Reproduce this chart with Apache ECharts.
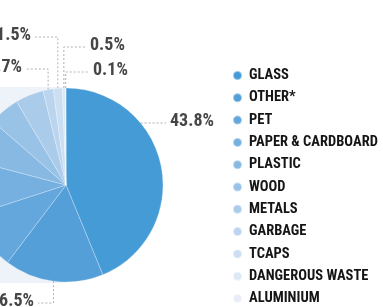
<!DOCTYPE html>
<html>
<head>
<meta charset="utf-8">
<script src="https://cdn.jsdelivr.net/npm/echarts@6/dist/echarts.min.js"></script>
<style>
  html, body { margin: 0; padding: 0; background: #fff; }
  #chart { width: 383px; height: 307px; }
</style>
</head>
<body>
<div id="chart"></div>
<script>
// waste composition, share in %
var categories = ["GLASS", "OTHER*", "PET", "PAPER & CARDBOARD", "PLASTIC", "WOOD",
  "METALS", "GARBAGE", "TCAPS", "DANGEROUS WASTE", "ALUMINIUM"];
var shares = [43.8, 16.5, 9.7, 9.1, 7.3, 5.1, 4.7, 1.7, 1.5, 0.5, 0.1];
var colors = ["#449bd6", "#559fd8", "#64a7dc", "#76b0e0", "#87b9e3", "#99c2e7",
  "#aacbea", "#bbd5ee", "#ccdff2", "#dde8f5", "#e7eef8"];

var CX = 66, CY = 185, R = 97;
var FONT = "'Roboto Condensed', 'Noto Sans Condensed', 'DejaVu Sans Condensed', 'Liberation Sans Narrow', 'Noto Sans', sans-serif";
var WEIGHT = "bold condensed";

// where the elbow label lines go (only these slices carry a label)
var labelSpec = {
  "GLASS": { kind: "h", lineY: 123, endX: 166, side: "right" },
  "OTHER*": { kind: "v", lineY: 303, endX: 38, side: "left" },
  "GARBAGE": { kind: "v", lineY: 69, endX: 26, side: "left" },
  "TCAPS": { kind: "v", lineY: 37, endX: 35, side: "left" },
  "DANGEROUS WASTE": { kind: "v", lineY: 47, endX: 86, side: "right" },
  "ALUMINIUM": { kind: "v", lineY: 72, endX: 89, side: "right" }
};

var total = shares.reduce(function (a, b) { return a + b; }, 0);
function edgePoint(idx) {
  var before = 0;
  for (var i = 0; i < idx; i++) before += shares[i];
  var a = (before + shares[idx] / 2) / total * Math.PI * 2; // clockwise from top
  return [CX + R * Math.sin(a), CY - R * Math.cos(a)];
}

var chart = echarts.init(document.getElementById("chart"));

var option = {
  animation: false,
  color: colors,
  graphic: [{
    type: "rect",
    z: -10,
    silent: true,
    shape: { x: 0, y: 87, width: CX, height: 196 },
    style: { fill: "#eef3fa" }
  }],
  legend: {
    orient: "vertical",
    left: 227,
    top: 63,
    height: 260,
    itemWidth: 9,
    itemHeight: 9,
    itemGap: 7.3,
    icon: "circle",
    data: categories,
    textStyle: {
      fontFamily: FONT,
      fontWeight: WEIGHT,
      fontSize: 14.5,
      lineHeight: 14,
      color: "#151515",
      padding: [0, 0, 0, 2]
    }
  },
  series: [{
    type: "pie",
    center: [CX, CY],
    radius: R,
    startAngle: 90,
    clockwise: true,
    avoidLabelOverlap: false,
    itemStyle: { borderColor: "rgba(255,255,255,0.45)", borderWidth: 0.6 },
    label: {
      show: true,
      overflow: "none",
      formatter: function (p) { return p.value.toFixed(1) + "%"; },
      fontFamily: FONT,
      fontWeight: WEIGHT,
      fontSize: 18,
      color: "#464646"
    },
    labelLine: {
      show: true,
      smooth: false,
      lineStyle: { color: "#b0b0b0", width: 1, type: [2, 2] }
    },
    labelLayout: function (p) {
      var spec = labelSpec[categories[p.dataIndex]];
      if (!spec) return {};
      var pts;
      if (spec.kind === "h") {
        var dy = spec.lineY - CY;
        var sx = CX + Math.sqrt(R * R - dy * dy);
        pts = [[sx, spec.lineY], [sx, spec.lineY], [spec.endX, spec.lineY]];
      } else {
        var e = edgePoint(p.dataIndex);
        pts = [e, [e[0], spec.lineY], [spec.endX, spec.lineY]];
      }
      return {
        x: spec.side === "right" ? spec.endX + 4 : spec.endX - 4,
        y: spec.lineY - 2,
        align: spec.side === "right" ? "left" : "right",
        verticalAlign: "middle",
        hideOverlap: false,
        labelLinePoints: pts
      };
    },
    data: categories.map(function (name, i) {
      return {
        name: name,
        value: shares[i],
        label: { show: !!labelSpec[name] },
        labelLine: { show: !!labelSpec[name] }
      };
    })
  }]
};

chart.setOption(option);
</script>
</body>
</html>
